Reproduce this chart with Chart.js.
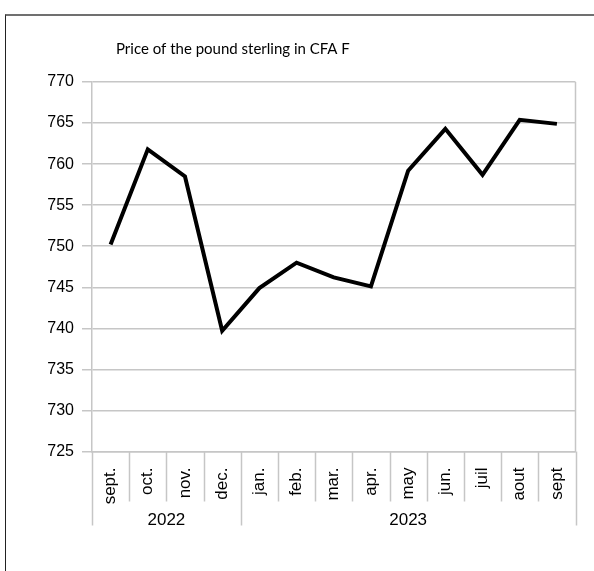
<!DOCTYPE html>
<html>
<head>
<meta charset="utf-8">
<script src="https://cdn.jsdelivr.net/npm/chart.js@4.4.0/dist/chart.umd.min.js"></script>
<style>
    html, body { margin: 0; padding: 0; background: #fff; }
    #wrap { position: relative; width: 594px; height: 571px; }
    #frame {
        position: absolute; left: 5px; top: 14px; width: 588px; height: 570px;
        border-top: 2px solid #707070; border-left: 1px solid #222;
    }
    #grafico { position: absolute; left: 0; top: 0; }
</style>
</head>
<body>
<div id="wrap">
    <div id="frame"></div>
    <canvas id="grafico" width="594" height="571"></canvas>
</div>
<script>
const titulo = 'Price of the pound sterling in CFA F';
const meses = ['sept.', 'oct.', 'nov.', 'dec.', 'jan.', 'feb.', 'mar.', 'apr.', 'may', 'jun.', 'juil', 'aout', 'sept'];
const anios = ['2022', '2022', '2022', '2022', '2023', '2023', '2023', '2023', '2023', '2023', '2023', '2023', '2023'];
const precios = [750.2, 761.8, 758.5, 739.7, 744.9, 748.0, 746.2, 745.1, 759.2, 764.3, 758.7, 765.4, 764.9];
const ejeY = { min: 725, max: 770, paso: 5 };

const gris = '#c6c6c6';
const fuente = '"Liberation Sans", Arial, sans-serif';

// dibuja titulo, borde derecho, separadores y los anios bajo el eje
const extras = {
    id: 'extras',
    afterDraw(chart) {
        const ctx = chart.ctx;
        const area = chart.chartArea;
        const x = chart.scales.x;
        const n = meses.length;

        ctx.save();
        ctx.fillStyle = '#000';
        ctx.font = '15px Lato, "Open Sans", sans-serif';
        ctx.textAlign = 'left';
        ctx.textBaseline = 'middle';
        ctx.fillText(titulo, 116, 49);

        ctx.strokeStyle = gris;
        ctx.lineWidth = 1.5;
        ctx.beginPath();
        ctx.moveTo(area.right, area.top);
        ctx.lineTo(area.right, area.bottom);
        ctx.stroke();

        const borde = i => {
            if (i === 0) return x.left;
            if (i === n) return x.right;
            return (x.getPixelForValue(i - 1) + x.getPixelForValue(i)) / 2;
        };

        let inicio = 0;
        for (let i = 0; i <= n; i++) {
            const cambio = i === 0 || i === n || anios[i] !== anios[i - 1];
            const px = Math.round(borde(i)) + 0.5;
            ctx.beginPath();
            ctx.moveTo(px, area.bottom);
            ctx.lineTo(px, cambio ? area.bottom + 74 : area.bottom + 50);
            ctx.stroke();
            if (cambio && i > 0) {
                const centro = (borde(inicio) + borde(i)) / 2;
                ctx.font = '17px ' + fuente;
                ctx.textAlign = 'center';
                ctx.fillStyle = '#000';
                ctx.fillText(anios[inicio], centro, area.bottom + 69);
                inicio = i;
            }
        }
        ctx.restore();
    }
};

const ctx = document.getElementById('grafico').getContext('2d');
new Chart(ctx, {
    type: 'line',
    data: {
        labels: meses,
        datasets: [{
            data: precios,
            borderColor: '#000',
            borderWidth: 4,
            pointRadius: 0,
            tension: 0,
            fill: false
        }]
    },
    options: {
        responsive: false,
        animation: false,
        layout: { padding: { top: 82, right: 18, bottom: 0, left: 0 } },
        plugins: {
            legend: { display: false },
            tooltip: { enabled: false }
        },
        scales: {
            x: {
                offset: true,
                grid: { display: true, drawOnChartArea: false, drawTicks: false, color: gris },
                border: { color: gris, width: 1.5 },
                ticks: {
                    color: '#000',
                    font: { family: fuente, size: 17 },
                    minRotation: 90,
                    maxRotation: 90,
                    padding: 16,
                    autoSkip: false
                },
                afterFit: s => { s.height = 119.5; }
            },
            y: {
                min: ejeY.min,
                max: ejeY.max,
                grid: { color: gris, lineWidth: 1.5, tickLength: 10 },
                border: { color: gris, width: 1.5 },
                ticks: {
                    stepSize: ejeY.paso,
                    color: '#000',
                    font: { family: fuente, size: 16 },
                    padding: 8
                },
                afterFit: s => { s.width = 92; }
            }
        }
    },
    plugins: [extras]
});
</script>
</body>
</html>
